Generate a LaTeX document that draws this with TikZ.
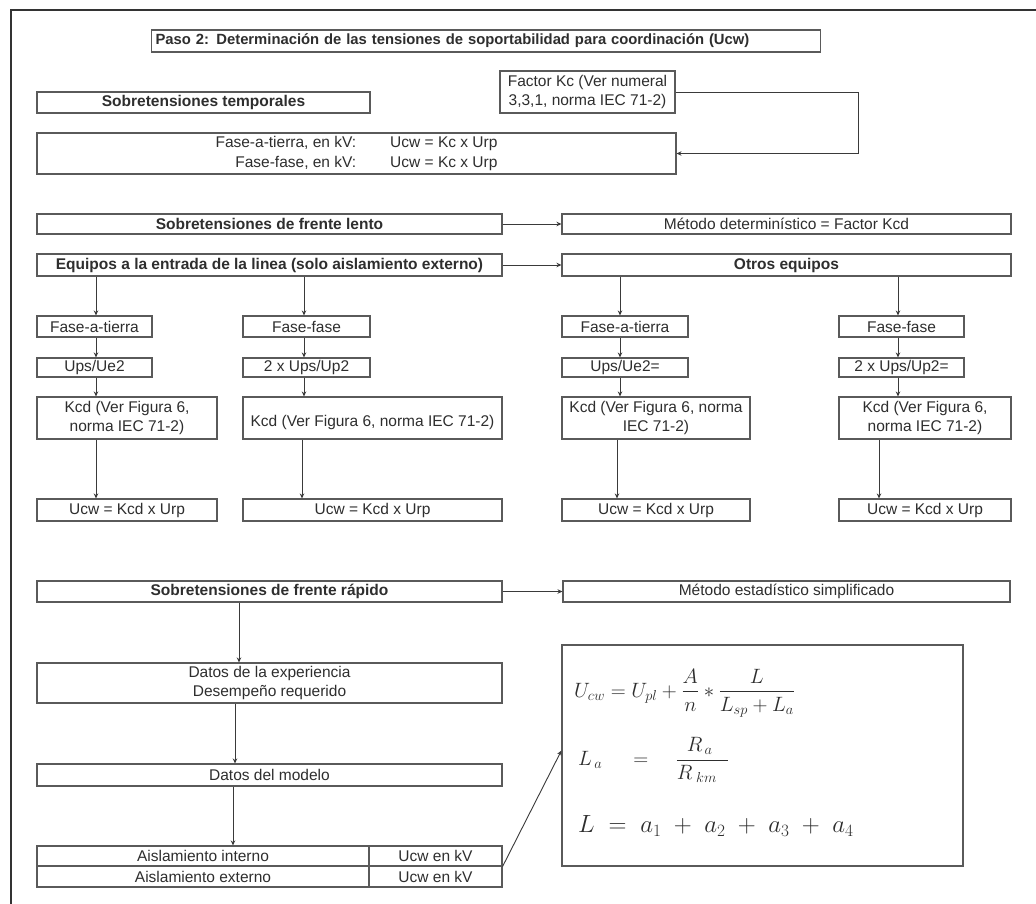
\documentclass[tikz,border=0pt]{standalone}
\usepackage{amsmath}
\usepackage{fontspec}
\setmainfont{Liberation Sans}
\usetikzlibrary{arrows.meta}
\definecolor{boxgray}{HTML}{5A5A5A}
\definecolor{linegray}{HTML}{3A3A3A}
\definecolor{txt}{HTML}{2E2E2E}
\definecolor{framegray}{HTML}{333333}
% \flowbox[style]{name}{x1}{y1}{x2}{y2}{text}: box given by its corners
\newcommand\flowbox[7][box]{%
  \node[#1, minimum width={#5-#3}, minimum height={#6-#4}] (#2)
    at ({(#3+#5)/2},{(#4+#6)/2}) {#7};}
\begin{document}
\begin{tikzpicture}[x=1pt,y=-1pt,
  box/.style={draw=boxgray, line width=1.1pt, inner sep=0pt, align=center,
    text=txt, font=\fontsize{15.5}{19.5}\selectfont},
  bbox/.style={box, font=\fontsize{15.5}{19.5}\selectfont\bfseries},
  arr/.style={draw=linegray, line width=0.9pt, -{Stealth[length=5pt,width=4.5pt]}},
  mathtxt/.style={anchor=west, inner sep=0pt, text=txt},
]
\useasboundingbox (0,0) rectangle (1036,904);
\fill[white] (0,0) rectangle (1036,904);

% outer frame
\draw[framegray, line width=2.6pt] (11,904) -- (11,10) -- (1036,10);

% title
\node[bbox, font=\fontsize{14.8}{18}\selectfont\bfseries, anchor=west,
  text width=661pt, inner xsep=4pt, minimum height=22pt, align=left] (title) at (151,41)
  {Paso 2: Determinación de las tensiones de soportabilidad para coordinación (Ucw)};

% temporary overvoltages
\flowbox[bbox]{temp}{37}{92}{370}{113}{Sobretensiones temporales}
\flowbox{kc}{500}{71}{675}{113}{Factor Kc (Ver numeral\\3,3,1, norma IEC 71-2)}
\flowbox{ft}{37}{133}{676}{174}{%
  \begin{tabular}{@{}r@{\hspace{34pt}}l@{}}
  Fase-a-tierra, en kV: & Ucw = Kc x Urp\\
  Fase-fase, en kV: & Ucw = Kc x Urp
  \end{tabular}}
\draw[arr] (kc.east) -- ++(183,0) |- (ft.east);

% slow-front overvoltages
\flowbox[bbox]{lento}{37}{214}{502}{234}{Sobretensiones de frente lento}
\flowbox{metdet}{562}{214}{1011}{234}{Método determinístico = Factor Kcd}
\flowbox[bbox]{equipos}{37}{254}{502}{276}{Equipos a la entrada de la linea (solo aislamiento externo)}
\flowbox[bbox]{otros}{562}{254}{1011}{276}{Otros equipos}
\draw[arr] (lento) -- (metdet);
\draw[arr] (equipos) -- (otros);

% phase-to-earth / phase-to-phase branches
\flowbox{fa1}{37}{316}{152}{337}{Fase-a-tierra}
\flowbox{ff1}{243}{316}{370}{337}{Fase-fase}
\flowbox{fa2}{562}{316}{688}{337}{Fase-a-tierra}
\flowbox{ff2}{839}{316}{964}{337}{Fase-fase}

\flowbox{up1}{37}{358}{152}{377}{Ups/Ue2}
\flowbox{up2}{243}{358}{370}{377}{2 x Ups/Up2}
\flowbox{up3}{562}{358}{688}{377}{Ups/Ue2=}
\flowbox{up4}{839}{358}{964}{377}{2 x Ups/Up2=}

\flowbox{kcd1}{37}{397}{217}{439}{Kcd (Ver Figura 6,\\norma IEC 71-2)}
\flowbox{kcd2}{243}{397}{502}{439}{\mbox{}\\Kcd (Ver Figura 6, norma IEC 71-2)}
\flowbox{kcd3}{562}{397}{750}{439}{Kcd (Ver Figura 6, norma\\IEC 71-2)}
\flowbox{kcd4}{839}{397}{1011}{439}{Kcd (Ver Figura 6,\\norma IEC 71-2)}

\flowbox{ucw1}{37}{499}{217}{521}{Ucw = Kcd x Urp}
\flowbox{ucw2}{243}{499}{502}{521}{Ucw = Kcd x Urp}
\flowbox{ucw3}{562}{499}{750}{521}{Ucw = Kcd x Urp}
\flowbox{ucw4}{839}{499}{1011}{521}{Ucw = Kcd x Urp}

% connector columns
\coordinate (c1) at (96,0);
\coordinate (c2) at (304,0);
\coordinate (c2b) at (302,0);
\coordinate (c3) at (620,0);
\coordinate (c3b) at (617,0);
\coordinate (c4) at (898,0);
\coordinate (c4b) at (879,0);

\draw[arr] (equipos.south -| c1) -- (fa1.north -| c1);
\draw[arr] (equipos.south -| c2) -- (ff1.north -| c2);
\draw[arr] (otros.south -| c3) -- (fa2.north -| c3);
\draw[arr] (otros.south -| c4) -- (ff2.north -| c4);

\draw[arr] (fa1.south -| c1) -- (up1.north -| c1);
\draw[arr] (up1.south -| c1) -- (kcd1.north -| c1);
\draw[arr] (kcd1.south -| c1) -- (ucw1.north -| c1);

\draw[arr] (ff1.south -| c2) -- (up2.north -| c2);
\draw[arr] (up2.south -| c2) -- (kcd2.north -| c2);
\draw[arr] (kcd2.south -| c2b) -- (ucw2.north -| c2b);

\draw[arr] (fa2.south -| c3) -- (up3.north -| c3);
\draw[arr] (up3.south -| c3) -- (kcd3.north -| c3);
\draw[arr] (kcd3.south -| c3b) -- (ucw3.north -| c3b);

\draw[arr] (ff2.south -| c4) -- (up4.north -| c4);
\draw[arr] (up4.south -| c4) -- (kcd4.north -| c4);
\draw[arr] (kcd4.south -| c4b) -- (ucw4.north -| c4b);

% fast-front overvoltages
\flowbox[bbox]{rapido}{37}{581}{502}{602}{Sobretensiones de frente rápido}
\flowbox{metest}{563}{581}{1010}{602}{Método estadístico simplificado}
\draw[arr] (rapido) -- (metest);

\flowbox{dexp}{37}{663}{502}{703}{Datos de la experiencia\\Desempeño requerido}
\flowbox{dmod}{37}{764}{502}{786}{Datos del modelo}

\flowbox{ai}{37}{846}{369}{866}{Aislamiento interno}
\flowbox{ui}{369}{846}{502}{866}{Ucw en kV}
\flowbox{ae}{37}{866}{369}{887}{Aislamiento externo}
\flowbox{ue}{369}{866}{502}{887}{Ucw en kV}

\coordinate (r1) at (239,0);
\coordinate (r2) at (235,0);
\coordinate (r3) at (233,0);
\draw[arr] (rapido.south -| r1) -- (dexp.north -| r1);
\draw[arr] (dexp.south -| r2) -- (dmod.north -| r2);
\draw[arr] (dmod.south -| r3) -- (ai.north -| r3);

% formula panel
\flowbox{fbox}{562}{645}{963}{866}{}
\draw[arr] (ui.south east) -- ([yshift=5pt]fbox.west);

\node[mathtxt, font=\fontsize{19.5}{22}\selectfont] (eq1) at (574,693)
  {$U_{cw} = U_{pl} + \dfrac{A}{n} * \dfrac{L}{L_{sp} + L_a}$};
\node[mathtxt, font=\fontsize{19.5}{22}\selectfont] (eq2) at (578,760)
  {$L_{\,a}\hspace{1.3em}=\hspace{1.1em}\dfrac{\;R_{\,a}\;\;}{R_{\;km}\;\;}$};
\node[mathtxt, font=\fontsize{24}{26}\selectfont] (eq3) at (578,826)
  {$L \;=\; a_1 \;+\; a_2 \;+\; a_3 \;+\; a_4$};
\end{tikzpicture}
\end{document}
